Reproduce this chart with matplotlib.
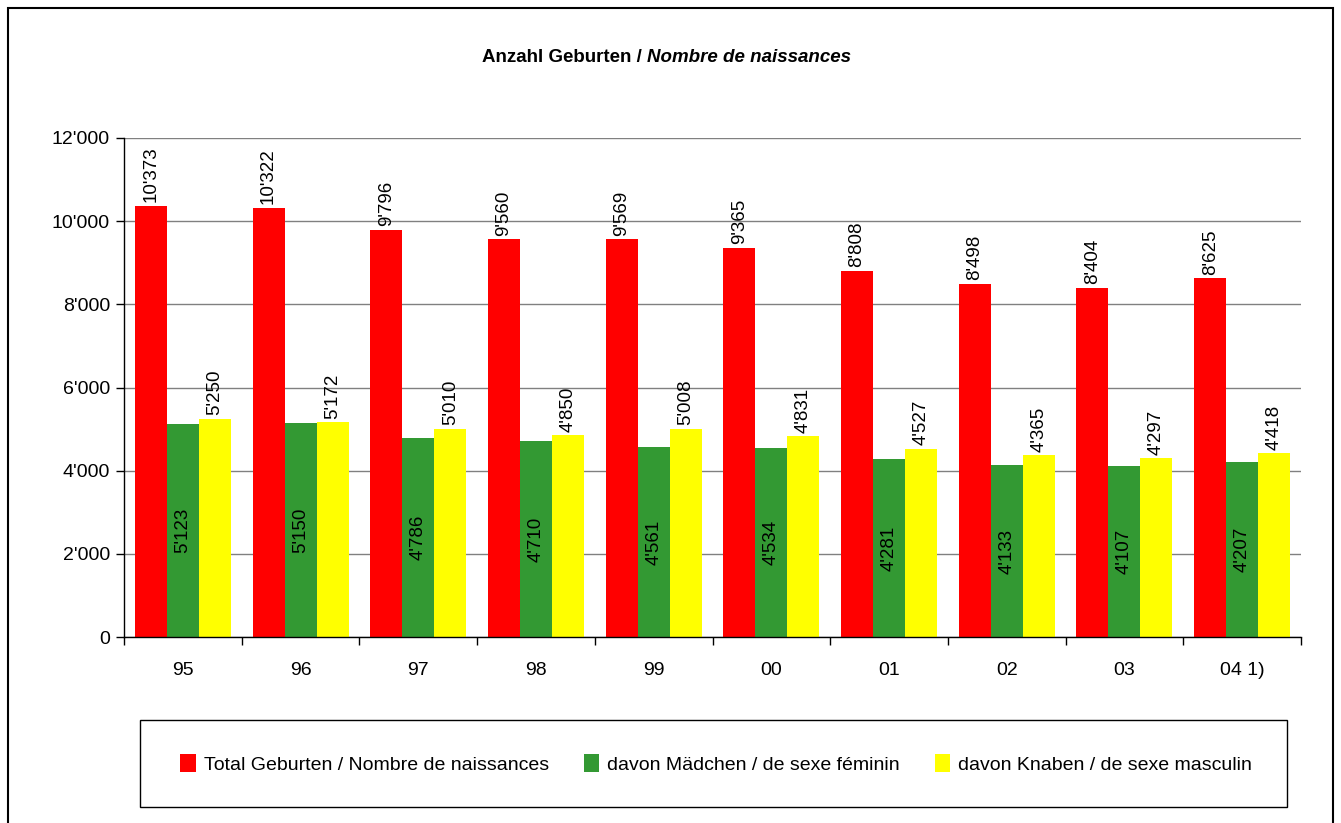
import matplotlib.pyplot as plt
import numpy as np
from matplotlib.patches import Rectangle

years = ['95', '96', '97', '98', '99', '00', '01', '02', '03', '04 1)']
total = [10373, 10322, 9796, 9560, 9569, 9365, 8808, 8498, 8404, 8625]
girls = [5123, 5150, 4786, 4710, 4561, 4534, 4281, 4133, 4107, 4207]
boys = [5250, 5172, 5010, 4850, 5008, 4831, 4527, 4365, 4297, 4418]
labels = ['Total Geburten / Nombre de naissances',
          'davon Mädchen / de sexe féminin',
          'davon Knaben / de sexe masculin']
colors = ['#ff0000', '#339933', '#ffff00']

plt.rcParams['font.family'] = ['Liberation Sans', 'DejaVu Sans']


def fmt(v):
    return f"{v:,}".replace(',', "'")


fig = plt.figure(figsize=(13.41, 8.23), dpi=100)
ax = fig.add_axes([124 / 1341, 1 - 637 / 823, (1301 - 124) / 1341, (637 - 138) / 823])

x = np.arange(len(years))
w = 0.272
b1 = ax.bar(x - w, total, w, color=colors[0], label=labels[0])
b2 = ax.bar(x, girls, w, color=colors[1], label=labels[1])
b3 = ax.bar(x + w, boys, w, color=colors[2], label=labels[2])

for rect, v in zip(b1, total):
    ax.text(rect.get_x() + rect.get_width() / 2, v + 80, fmt(v), rotation=90,
            ha='center', va='bottom', fontsize=13.5)
for rect, v in zip(b3, boys):
    ax.text(rect.get_x() + rect.get_width() / 2, v + 80, fmt(v), rotation=90,
            ha='center', va='bottom', fontsize=13.5)
for rect, v in zip(b2, girls):
    ax.text(rect.get_x() + rect.get_width() / 2, v / 2, fmt(v), rotation=90,
            ha='center', va='center', fontsize=13.5)

ax.set_xlim(-0.5, len(years) - 0.5)
ax.set_ylim(0, 12000)
ax.set_yticks(range(0, 12001, 2000))
ax.set_yticklabels([fmt(v) for v in range(0, 12001, 2000)], fontsize=14)
ax.set_xticks(x)
ax.set_xticklabels(years, fontsize=14)
ax.set_xticks(np.arange(-0.5, len(years), 1), minor=True)
ax.tick_params(axis='x', which='major', length=0, pad=18)
ax.tick_params(axis='x', which='minor', length=6, direction='out', width=1)
ax.tick_params(axis='y', length=6, direction='out', width=1, pad=4)
ax.yaxis.grid(True, color='#808080', lw=1)
ax.set_axisbelow(True)
for s in ['top', 'right']:
    ax.spines[s].set_visible(False)
ax.spines['left'].set_linewidth(1)
ax.spines['bottom'].set_linewidth(1)

fig.text(647 / 1341, 1 - 57 / 823, 'Anzahl Geburten / ', ha='right', va='center',
         fontsize=13.5, fontweight='bold')
fig.text(647 / 1341, 1 - 57 / 823, 'Nombre de naissances', ha='left', va='center',
         fontsize=13.5, fontweight='bold', style='italic')

# legend box
fig.patches.append(Rectangle((140 / 1341, 1 - 807 / 823), (1287 - 140) / 1341, 87 / 823,
                             transform=fig.transFigure, fill=False,
                             edgecolor='black', lw=1))
fig.legend(loc='center', ncol=3, bbox_to_anchor=(716 / 1341, 1 - 764 / 823),
           fontsize=14, frameon=False, handlelength=0.8, handleheight=1.0,
           handletextpad=0.4, columnspacing=1.8)

fig.patches.append(Rectangle((8 / 1341, -0.05), (1333 - 8) / 1341, 1.05 - 8 / 823,
                             transform=fig.transFigure, fill=False,
                             edgecolor='black', lw=1.5))

fig.savefig('out.png', dpi=100)
